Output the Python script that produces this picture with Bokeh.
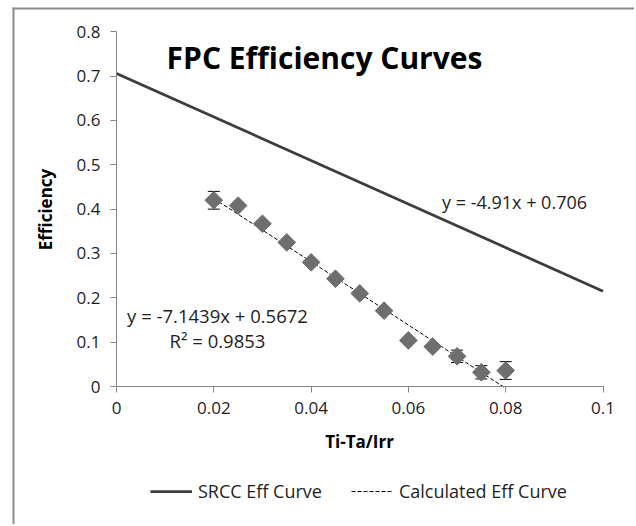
import math
from bokeh.plotting import figure
from bokeh.models import (ColumnDataSource, Label, Legend, LegendItem, Whisker, TeeHead,
                          FixedTicker, CustomJSTickFormatter, BoxAnnotation, Range1d, LinearAxis)
from bokeh.embed import file_html
from bokeh.resources import INLINE

# ---- data ----
ratio = [0.02, 0.025, 0.03, 0.035, 0.04, 0.045, 0.05, 0.055, 0.06, 0.065, 0.07, 0.075, 0.08]
efficiency = [0.420, 0.408, 0.367, 0.325, 0.280, 0.243, 0.210, 0.171, 0.104, 0.090, 0.068, 0.032, 0.036]
eff_error = [0.020, 0, 0, 0, 0, 0, 0, 0, 0, 0, 0.014, 0.015, 0.020]
srcc_x = [0.0, 0.1]
srcc_y = [0.706, 0.215]
trend_x = [0.02, 0.08]
trend_y = [0.424, -0.004]
x_ticks = [0, 0.02, 0.04, 0.06, 0.08, 0.1]
y_ticks = [0, 0.1, 0.2, 0.3, 0.4, 0.5, 0.6, 0.7, 0.8]
x_axis_min, x_axis_max = 0.0, 0.1
y_axis_min, y_axis_max = 0.0, 0.8

# ---- layout (pixels) ----
W, H = 634, 524
PLOT_L, PLOT_R = 116.0, 602.5     # pixel x of x_axis_min / x_axis_max
PLOT_T, PLOT_B = 31.25, 386.0     # pixel y of y_axis_max / y_axis_min
sx = (x_axis_max - x_axis_min) / (PLOT_R - PLOT_L)
sy = (y_axis_max - y_axis_min) / (PLOT_B - PLOT_T)
x_lo = x_axis_min - PLOT_L * sx
x_hi = x_axis_min + (W - PLOT_L) * sx
y_lo = y_axis_min - (H - PLOT_B) * sy
y_hi = y_axis_min + PLOT_B * sy
def px_x(px):
    return x_axis_min + (px - PLOT_L) * sx
def px_y(py):
    return y_axis_min + (PLOT_B - py) * sy

FONT = "Open Sans"
TXT = "#1e1e1e"
AX = "#868686"
BORDER = "#8c8c8c"

p = figure(width=W, height=H, x_range=Range1d(x_lo, x_hi), y_range=Range1d(y_lo, y_hi),
           output_backend="svg", toolbar_location=None,
           x_axis_location=None, y_axis_location=None, min_border=0)
p.grid.visible = False
p.outline_line_color = None
p.background_fill_color = "white"
p.border_fill_color = "white"

# chart-area border: only its top and left edges fall inside the picture
p.add_layout(BoxAnnotation(left=px_x(12), right=px_x(W), top=px_y(7), bottom=px_y(9),
                           fill_color=BORDER, fill_alpha=1, line_alpha=0, level="underlay"))
p.add_layout(BoxAnnotation(left=px_x(12), right=px_x(14), top=px_y(7), bottom=px_y(H),
                           fill_color=BORDER, fill_alpha=1, line_alpha=0, level="underlay"))

fmt = CustomJSTickFormatter(code="return String(Number(tick.toFixed(3)));")
xaxis = LinearAxis(fixed_location=0, bounds=(x_axis_min, x_axis_max),
                   ticker=FixedTicker(ticks=x_ticks), formatter=fmt)
yaxis = LinearAxis(fixed_location=0, bounds=(y_axis_min, y_axis_max),
                   ticker=FixedTicker(ticks=y_ticks), formatter=fmt)
for ax in (xaxis, yaxis):
    ax.axis_line_color = AX
    ax.major_tick_line_color = AX
    ax.minor_tick_line_color = None
    ax.major_tick_in = 0
    ax.major_tick_out = 6
    ax.major_label_text_font = FONT
    ax.major_label_text_font_size = "17px"
    ax.major_label_text_color = TXT
xaxis.major_label_standoff = 9
yaxis.major_label_standoff = 10
p.add_layout(xaxis, "below")
p.add_layout(yaxis, "left")

# axis titles
p.add_layout(Label(x=px_x(359), y=px_y(441), text="Ti-Ta/Irr", text_align="center",
                   text_baseline="alphabetic", text_font=FONT, text_font_style="bold",
                   text_font_size="17px", text_color="black"))
p.add_layout(Label(x=px_x(45), y=px_y(209), text="Efficiency", angle=math.pi / 2,
                   text_align="center", text_baseline="alphabetic", text_font=FONT,
                   text_font_style="bold", text_font_size="17px", text_color="black"))

# SRCC line
srcc_r = p.line(srcc_x, srcc_y, line_color="#3c3c3c", line_width=2.75)
# calculated trendline
trend_r = p.line(trend_x, trend_y, line_color="black", line_width=1, line_dash="4 2")
# measured points
p.scatter(ratio, efficiency, marker="square", angle=math.pi / 4, size=12.5,
          fill_color="#6e6e6e", line_color="#6e6e6e")

# error bars
ex = [x for x, e in zip(ratio, eff_error) if e > 0]
elo = [y - e for y, e in zip(efficiency, eff_error) if e > 0]
ehi = [y + e for y, e in zip(efficiency, eff_error) if e > 0]
err_src = ColumnDataSource(dict(x=ex, lower=elo, upper=ehi))
p.add_layout(Whisker(base="x", lower="lower", upper="upper", source=err_src, dimension="height",
                     line_color="black", line_width=1,
                     upper_head=TeeHead(size=12, line_color="black", line_width=1),
                     lower_head=TeeHead(size=12, line_color="black", line_width=1)))

# texts
p.add_layout(Label(x=px_x(324), y=px_y(56.7), text="FPC Efficiency Curves", text_align="center",
                   text_baseline="alphabetic", text_font=FONT, text_font_style="bold",
                   text_font_size="30px", text_color="black"))
p.add_layout(Label(x=px_x(514), y=px_y(201), text="y = -4.91x + 0.706", text_align="center",
                   text_baseline="alphabetic", text_font=FONT, text_font_size="18px",
                   text_color=TXT))
p.add_layout(Label(x=px_x(217), y=px_y(315), text="y = -7.1439x + 0.5672", text_align="center",
                   text_baseline="alphabetic", text_font=FONT, text_font_size="18.5px",
                   text_color=TXT))
p.add_layout(Label(x=px_x(217), y=px_y(340), text="R² = 0.9853", text_align="center",
                   text_baseline="alphabetic", text_font=FONT, text_font_size="18.5px",
                   text_color=TXT))

# legend
legend = Legend(items=[LegendItem(label="SRCC Eff Curve", renderers=[srcc_r]),
                       LegendItem(label="Calculated Eff Curve", renderers=[trend_r])],
                location=(150, 21), orientation="horizontal",
                glyph_width=42, glyph_height=20, label_standoff=6, spacing=29,
                padding=0, margin=0, border_line_color=None, background_fill_alpha=0,
                label_text_font=FONT, label_text_font_size="18px", label_text_color=TXT)
p.add_layout(legend, "center")

open("out.html", "w").write(file_html(p, INLINE))
